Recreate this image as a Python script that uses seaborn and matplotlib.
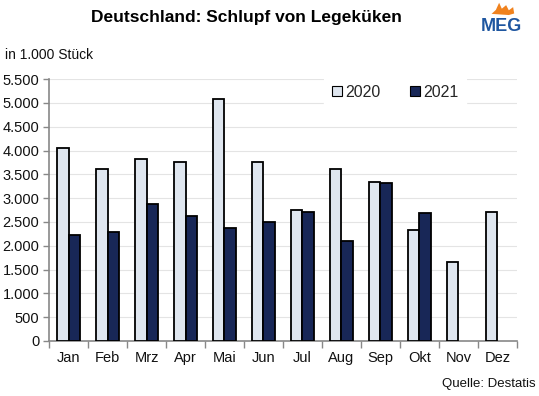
import pandas as pd
import numpy as np
import matplotlib
matplotlib.use("Agg")
import matplotlib.pyplot as plt
from matplotlib.patches import Polygon
import seaborn as sns

months = ["Jan", "Feb", "Mrz", "Apr", "Mai", "Jun", "Jul", "Aug", "Sep", "Okt", "Nov", "Dez"]
years = ["2020", "2021"]
values_2020 = [4060, 3610, 3830, 3770, 5080, 3770, 2760, 3610, 3350, 2340, 1660, 2720]
values_2021 = [2230, 2280, 2880, 2630, 2370, 2500, 2710, 2090, 3320, 2690, np.nan, np.nan]
yticks = list(range(0, 5501, 500))

df = pd.DataFrame({
    "Monat": months * 2,
    "Jahr": ["2020"] * 12 + ["2021"] * 12,
    "Wert": values_2020 + values_2021,
})

sns.set_theme(style="white")
plt.rcParams["font.family"] = ["Liberation Sans", "DejaVu Sans"]

fig = plt.figure(figsize=(5.39, 3.96), dpi=100)
ax = fig.add_axes([0.091, 0.139, 0.868, 0.661])

palette = {"2020": "#dce6f2", "2021": "#0d2262"}
sns.barplot(
    data=df, x="Monat", y="Wert", hue="Jahr",
    order=months, hue_order=years, palette=palette,
    width=0.6, edgecolor="black", linewidth=1.3,
    ax=ax, zorder=3,
)

ax.set_ylim(0, 5500)
ax.set_xlim(-0.5, 11.5)
ax.set_yticks(yticks)
ax.set_yticklabels([f"{v:,}".replace(",", ".") for v in yticks], fontsize=10.5, color="#111111")
ax.yaxis.grid(True, color="#e4e4e4", linewidth=0.8, zorder=0)
ax.set_axisbelow(True)
ax.set_xlabel("")
ax.set_ylabel("")

# category separators as ticks
ax.set_xticks(np.arange(-0.5, 12, 1), minor=True)
ax.tick_params(axis="x", which="major", length=0, labelsize=10.5, labelcolor="#111111", pad=7)
ax.tick_params(axis="x", which="minor", length=5, width=1, color="#888888", direction="out", bottom=True)
ax.tick_params(axis="y", length=4, width=1, color="#888888", direction="out", left=True, pad=3)

for side in ["top", "right"]:
    ax.spines[side].set_visible(False)
for side in ["left", "bottom"]:
    ax.spines[side].set_color("#888888")
    ax.spines[side].set_linewidth(1.2)

leg = ax.legend(
    loc="center", bbox_to_anchor=(0.74, 0.95), ncol=2, frameon=True,
    fontsize=11.5, handlelength=0.6, handleheight=0.6, handletextpad=0.2,
    columnspacing=1.9, borderpad=0.5,
)
leg.get_frame().set_facecolor("white")
leg.get_frame().set_edgecolor("white")
leg.get_frame().set_alpha(1)
leg.set_zorder(5)
for h in leg.legend_handles:
    h.set_edgecolor("black")
    h.set_linewidth(0.8)

fig.text(0.458, 0.957, "Deutschland: Schlupf von Legeküken", ha="center", va="center",
         fontsize=12.5, fontweight="bold", color="black")
fig.text(0.009, 0.862, "in 1.000 Stück", ha="left", va="center", fontsize=10, color="#111111")
fig.text(0.993, 0.03, "Quelle: Destatis", ha="right", va="center", fontsize=9.5, color="#111111")

# logo
fig.text(0.93, 0.932, "MEG", ha="center", va="center", fontsize=13, fontweight="bold",
         color="#1e56a0")
flame = Polygon(
    [(0.912, 0.965), (0.920, 0.975), (0.926, 0.993), (0.931, 0.978), (0.939, 0.987),
     (0.944, 0.974), (0.952, 0.982), (0.954, 0.966), (0.944, 0.962)],
    closed=True, transform=fig.transFigure, facecolor="#f0821e", edgecolor="none",
)
fig.add_artist(flame)

fig.savefig("out.png", dpi=100)
